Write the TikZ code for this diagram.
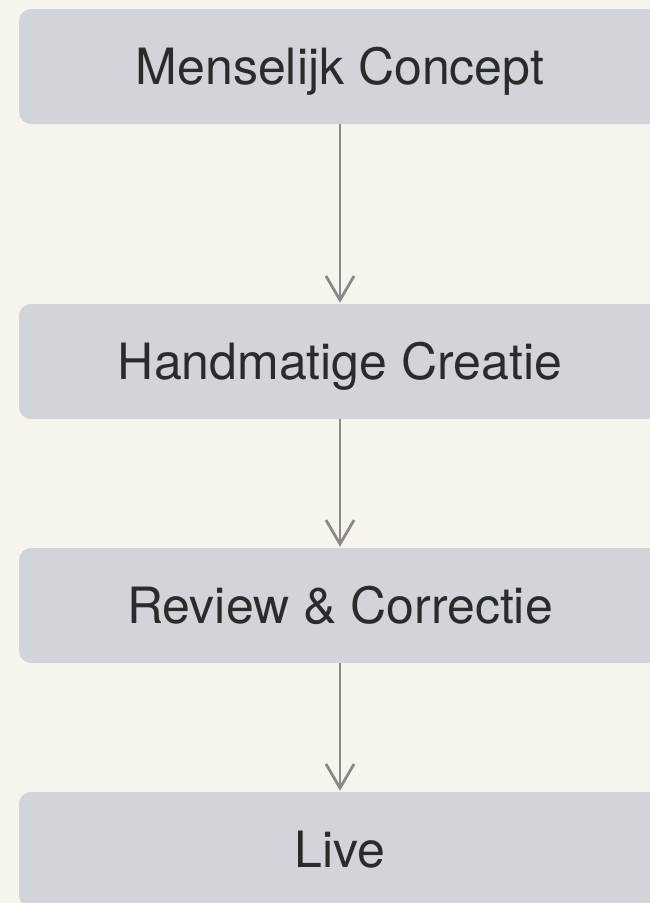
\documentclass[tikz,border=0pt]{standalone}
\usepackage{fontspec}
\setmainfont{TeX Gyre Heros}
\usetikzlibrary{arrows.meta}
\definecolor{pagebg}{HTML}{F6F4EC}
\definecolor{stepfill}{HTML}{D1D5D9}
\definecolor{steptext}{HTML}{2B2B2B}
\definecolor{flowline}{HTML}{8A8A8A}
\tikzset{
  stepbox/.style={rectangle, rounded corners=12pt, fill=stepfill, draw=none,
    minimum width=642pt, minimum height=115pt, inner sep=0pt,
    text height=36pt, text depth=0pt,
    text=steptext, font=\fontsize{50}{60}\selectfont},
  flow/.style={draw=flowline, line width=2.8pt,
    -{Straight Barb[length=24pt, width=28pt, line width=2.8pt]}, shorten >=1pt}
}
\begin{document}
\begin{tikzpicture}[x=1pt, y=1pt]
  \useasboundingbox (0,0) rectangle (650,-903);
  \fill[pagebg] (0,0) rectangle (650,-903);
  \clip (0,0) rectangle (650,-903);
  \node[stepbox] (s1) at (340,-66.5)  {Menselijk Concept};
  \node[stepbox] (s2) at (340,-361.5) {Handmatige Creatie};
  \node[stepbox] (s3) at (340,-605.5) {Review \& Correctie};
  \node[stepbox] (s4) at (340,-849.5) {Live};
  \draw[flow] (s1.south) -- (s2.north);
  \draw[flow] (s2.south) -- (s3.north);
  \draw[flow] (s3.south) -- (s4.north);
\end{tikzpicture}
\end{document}
